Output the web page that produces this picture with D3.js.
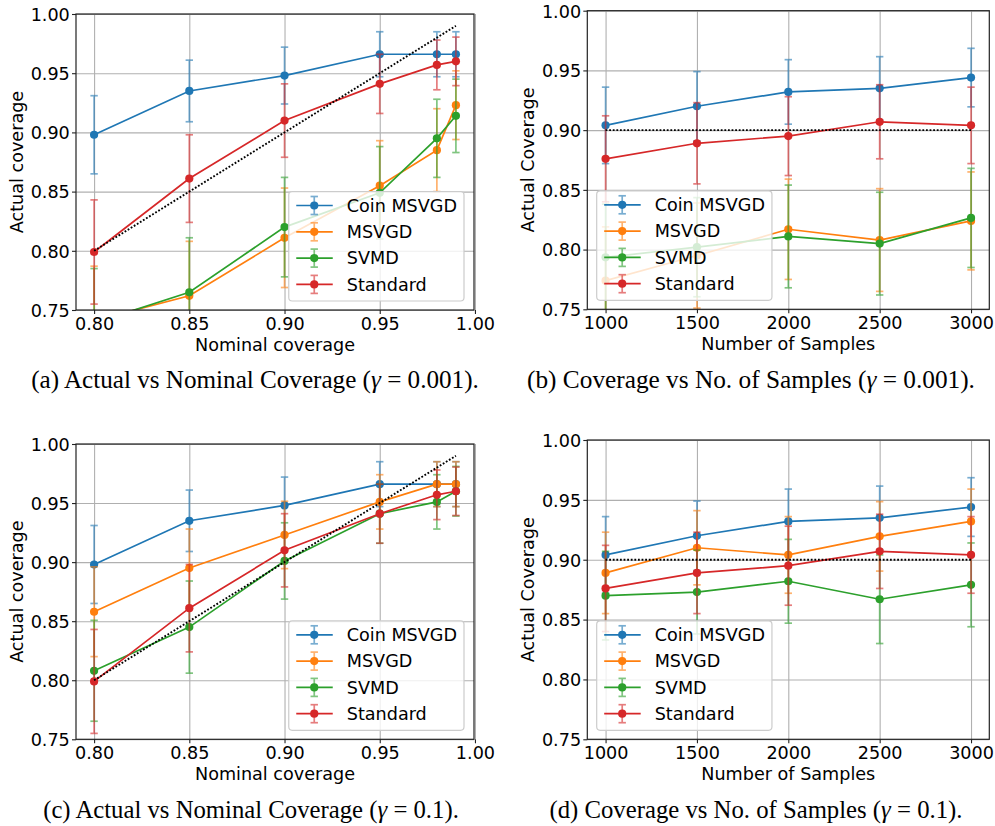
<!DOCTYPE html>
<html>
<head>
<meta charset="utf-8">
<script src="https://cdn.jsdelivr.net/npm/d3@7"></script>
<style>
  html, body { margin: 0; padding: 0; background: #fff; }
  svg { display: block; }
</style>
</head>
<body>
<div id="chart"></div>
<script>
// ---------------- DATA ----------------
const seriesNames = ["Coin MSVGD", "MSVGD", "SVMD", "Standard"];
const seriesColors = ["#1f77b4", "#ff7f0e", "#2ca02c", "#d62728"];

const nominalLevels = [0.80, 0.85, 0.90, 0.95, 0.98, 0.99];
const nominalTicks = [0.80, 0.85, 0.90, 0.95, 1.00];
const sampleSizes = [1000, 1500, 2000, 2500, 3000];
const sampleTicks = [1000, 1500, 2000, 2500, 3000];
const coverageTicks = [0.75, 0.80, 0.85, 0.90, 0.95, 1.00];

// (a) gamma = 0.001, actual vs nominal
const aCoin = [0.898, 0.935, 0.948, 0.966, 0.966, 0.966];
const aCoinErr = [0.033, 0.026, 0.024, 0.019, 0.019, 0.019];
const aMsvgd = [0.741, 0.762, 0.811, 0.855, 0.885, 0.923];
const aMsvgdErr = [0.046, 0.046, 0.042, 0.038, 0.035, 0.029];
const aSvmd = [0.739, 0.765, 0.820, 0.849, 0.895, 0.914];
const aSvmdErr = [0.046, 0.046, 0.042, 0.039, 0.033, 0.031];
const aStd = [0.799, 0.861, 0.910, 0.941, 0.957, 0.960];
const aStdErr = [0.044, 0.037, 0.031, 0.025, 0.021, 0.0205];

// (b) gamma = 0.001, coverage vs number of samples
const bCoin = [0.904, 0.920, 0.932, 0.935, 0.944];
const bCoinErr = [0.032, 0.029, 0.027, 0.0265, 0.0245];
const bMsvgd = [0.774, 0.795, 0.817, 0.808, 0.824];
const bMsvgdErr = [0.045, 0.044, 0.042, 0.043, 0.041];
const bSvmd = [0.7935, 0.802, 0.811, 0.805, 0.8265];
const bSvmdErr = [0.0445, 0.0415, 0.043, 0.043, 0.0415];
const bStd = [0.876, 0.889, 0.895, 0.907, 0.904];
const bStdErr = [0.036, 0.034, 0.033, 0.031, 0.032];

// (c) gamma = 0.1, actual vs nominal
const cCoin = [0.898, 0.935, 0.948, 0.966, 0.966, 0.966];
const cCoinErr = [0.033, 0.026, 0.024, 0.019, 0.019, 0.019];
const cMsvgd = [0.858, 0.895, 0.923, 0.951, 0.966, 0.966];
const cMsvgdErr = [0.038, 0.033, 0.0285, 0.023, 0.019, 0.019];
const cSvmd = [0.808, 0.845, 0.901, 0.941, 0.951, 0.960];
const cSvmdErr = [0.0427, 0.039, 0.0323, 0.025, 0.023, 0.021];
const cStd = [0.799, 0.861, 0.910, 0.941, 0.957, 0.960];
const cStdErr = [0.044, 0.037, 0.031, 0.025, 0.021, 0.0205];

// (d) gamma = 0.1, coverage vs number of samples
const dCoin = [0.904, 0.920, 0.932, 0.935, 0.944];
const dCoinErr = [0.032, 0.029, 0.027, 0.0265, 0.0245];
const dMsvgd = [0.889, 0.910, 0.904, 0.9195, 0.932];
const dMsvgdErr = [0.034, 0.031, 0.032, 0.029, 0.027];
const dSvmd = [0.870, 0.873, 0.882, 0.867, 0.879];
const dSvmdErr = [0.037, 0.035, 0.035, 0.037, 0.035];
const dStd = [0.876, 0.889, 0.895, 0.907, 0.904];
const dStdErr = [0.036, 0.034, 0.033, 0.031, 0.032];

const targetCoverage = 0.90;

// ---------------- LAYOUT ----------------
const W = 995, H = 826;
const FONT = "'DejaVu Sans', sans-serif";
const FS = 17.6;

const panels = [
  { key: "a", left: 76, right: 474, top: 14, bottom: 310,
    xDomain: [0.7905, 0.9995], xs: nominalLevels, xTicks: nominalTicks, xFmt: d3.format(".2f"),
    vals: [aCoin, aMsvgd, aSvmd, aStd], errs: [aCoinErr, aMsvgdErr, aSvmdErr, aStdErr],
    ref: "diag", legend: "lr", yLabel: "Actual coverage", xLabel: "Nominal coverage",
    capPre: "(a) Actual vs Nominal Coverage (", capVal: "0.001", capCx: 255, capW: 448, capY: 388 },
  { key: "b", left: 587.3, right: 989.3, top: 10.7, bottom: 309.3,
    xDomain: [900, 3100], xs: sampleSizes, xTicks: sampleTicks, xFmt: d3.format("d"),
    vals: [bCoin, bMsvgd, bSvmd, bStd], errs: [bCoinErr, bMsvgdErr, bSvmdErr, bStdErr],
    ref: "flat", legend: "ll", yLabel: "Actual Coverage", xLabel: "Number of Samples",
    capPre: "(b) Coverage vs No. of Samples (", capVal: "0.001", capCx: 751, capW: 448, capY: 388 },
  { key: "c", left: 76, right: 474, top: 444, bottom: 739.3,
    xDomain: [0.7905, 0.9995], xs: nominalLevels, xTicks: nominalTicks, xFmt: d3.format(".2f"),
    vals: [cCoin, cMsvgd, cSvmd, cStd], errs: [cCoinErr, cMsvgdErr, cSvmdErr, cStdErr],
    ref: "diag", legend: "lr", yLabel: "Actual coverage", xLabel: "Nominal coverage",
    capPre: "(c) Actual vs Nominal Coverage (", capVal: "0.1", capCx: 251, capW: 416, capY: 818 },
  { key: "d", left: 587.3, right: 989.3, top: 440, bottom: 739.3,
    xDomain: [900, 3100], xs: sampleSizes, xTicks: sampleTicks, xFmt: d3.format("d"),
    vals: [dCoin, dMsvgd, dSvmd, dStd], errs: [dCoinErr, dMsvgdErr, dSvmdErr, dStdErr],
    ref: "flat", legend: "ll", yLabel: "Actual Coverage", xLabel: "Number of Samples",
    capPre: "(d) Coverage vs No. of Samples (", capVal: "0.1", capCx: 756, capW: 413, capY: 818 }
];

const svg = d3.select("#chart").append("svg").attr("width", W).attr("height", H);
const defs = svg.append("defs");

const LW = 1.7, ERR_OP = 0.6, CAP = 3.7, MR = 4.1;

panels.forEach(p => {
  const g = svg.append("g").attr("class", "panel-" + p.key);
  const x = d3.scaleLinear().domain(p.xDomain).range([p.left, p.right]);
  const y = d3.scaleLinear().domain([0.75, 1.0]).range([p.bottom, p.top]);

  // grid
  const gx = g.append("g").attr("transform", `translate(0,${p.bottom})`)
    .call(d3.axisBottom(x).tickValues(p.xTicks).tickSize(-(p.bottom - p.top)).tickFormat(""));
  const gy = g.append("g").attr("transform", `translate(${p.left},0)`)
    .call(d3.axisLeft(y).tickValues(coverageTicks).tickSize(-(p.right - p.left)).tickFormat(""));
  [gx, gy].forEach(a => {
    a.select(".domain").remove();
    a.selectAll("line").attr("stroke", "#b0b0b0").attr("stroke-width", 1.1);
  });

  // clip
  const cid = "clip-" + p.key;
  defs.append("clipPath").attr("id", cid).append("rect")
    .attr("x", p.left).attr("y", p.top).attr("width", p.right - p.left).attr("height", p.bottom - p.top);
  const plot = g.append("g").attr("clip-path", `url(#${cid})`);

  p.vals.forEach((vals, si) => {
    const col = seriesColors[si];
    const errs = p.errs[si];
    const pts = p.xs.map((xv, i) => ({ x: xv, y: vals[i], e: errs[i] }));
    const sg = plot.append("g");
    const eg = sg.append("g").attr("stroke", col).attr("stroke-width", LW).attr("opacity", ERR_OP);
    eg.selectAll("line.bar").data(pts).join("line").attr("class", "bar")
      .attr("x1", d => x(d.x)).attr("x2", d => x(d.x))
      .attr("y1", d => y(d.y - d.e)).attr("y2", d => y(d.y + d.e));
    eg.selectAll("line.capt").data(pts).join("line").attr("class", "capt")
      .attr("x1", d => x(d.x) - CAP).attr("x2", d => x(d.x) + CAP)
      .attr("y1", d => y(d.y + d.e)).attr("y2", d => y(d.y + d.e));
    eg.selectAll("line.capb").data(pts).join("line").attr("class", "capb")
      .attr("x1", d => x(d.x) - CAP).attr("x2", d => x(d.x) + CAP)
      .attr("y1", d => y(d.y - d.e)).attr("y2", d => y(d.y - d.e));
    sg.append("path").datum(pts)
      .attr("fill", "none").attr("stroke", col).attr("stroke-width", LW)
      .attr("d", d3.line().x(d => x(d.x)).y(d => y(d.y)));
    sg.selectAll("circle").data(pts).join("circle")
      .attr("cx", d => x(d.x)).attr("cy", d => y(d.y)).attr("r", MR).attr("fill", col);
  });

  // reference line
  let refPts;
  if (p.ref === "diag") {
    refPts = [[nominalLevels[0], nominalLevels[0]], [nominalLevels[nominalLevels.length - 1], nominalLevels[nominalLevels.length - 1]]];
  } else {
    refPts = [[sampleSizes[0], targetCoverage], [sampleSizes[sampleSizes.length - 1], targetCoverage]];
  }
  plot.append("path").datum(refPts)
    .attr("fill", "none").attr("stroke", "#000").attr("stroke-width", 1.9)
    .attr("stroke-dasharray", "1.8,1.8")
    .attr("d", d3.line().x(d => x(d[0])).y(d => y(d[1])));

  // spines
  g.append("rect").attr("x", p.left).attr("y", p.top)
    .attr("width", p.right - p.left).attr("height", p.bottom - p.top)
    .attr("fill", "none").attr("stroke", "#222").attr("stroke-width", 1.2);

  // tick axes
  const ax = g.append("g").attr("transform", `translate(0,${p.bottom})`)
    .call(d3.axisBottom(x).tickValues(p.xTicks).tickFormat(p.xFmt).tickSize(4).tickPadding(3.5));
  const ay = g.append("g").attr("transform", `translate(${p.left},0)`)
    .call(d3.axisLeft(y).tickValues(coverageTicks).tickFormat(d3.format(".2f")).tickSize(4).tickPadding(2.2));
  [ax, ay].forEach(a => {
    a.select(".domain").remove();
    a.selectAll("line").attr("stroke", "#222").attr("stroke-width", 1.1);
    a.selectAll("text").attr("font-family", FONT).attr("font-size", FS).attr("fill", "#000");
  });
  ay.selectAll("text").attr("dy", "0.36em");

  // axis labels
  g.append("text").attr("x", (p.left + p.right) / 2).attr("y", p.bottom + 41)
    .attr("text-anchor", "middle").attr("font-family", FONT).attr("font-size", FS).text(p.xLabel);
  const ylx = p.left - 53;
  g.append("text").attr("transform", `translate(${ylx},${(p.top + p.bottom) / 2}) rotate(-90)`)
    .attr("text-anchor", "middle").attr("font-family", FONT).attr("font-size", FS).text(p.yLabel);

  // legend
  const lg = g.append("g");
  const tmp = lg.append("g");
  let maxW = 0;
  seriesNames.forEach(n => {
    const t = tmp.append("text").attr("font-family", FONT).attr("font-size", FS).text(n);
    maxW = Math.max(maxW, t.node().getComputedTextLength());
  });
  tmp.remove();
  const lw = 58 + maxW + 7, lh = 109.5;
  const lx = p.legend === "lr" ? p.right - 10 - lw : p.left + 9.4;
  const ly = p.bottom - 9 - lh;
  lg.append("rect").attr("x", lx).attr("y", ly).attr("width", lw).attr("height", lh)
    .attr("rx", 3.5).attr("fill", "#fff").attr("fill-opacity", 0.8)
    .attr("stroke", "#cccccc").attr("stroke-width", 1.2);
  seriesNames.forEach((n, i) => {
    const cy = ly + 14 + i * 26.3;
    const col = seriesColors[i];
    const hx = lx + 25.5;
    lg.append("line").attr("x1", lx + 7.5).attr("x2", lx + 44).attr("y1", cy).attr("y2", cy)
      .attr("stroke", col).attr("stroke-width", LW);
    const eg = lg.append("g").attr("stroke", col).attr("stroke-width", LW).attr("opacity", ERR_OP);
    eg.append("line").attr("x1", hx).attr("x2", hx).attr("y1", cy - 9).attr("y2", cy + 9);
    eg.append("line").attr("x1", hx - CAP).attr("x2", hx + CAP).attr("y1", cy - 9).attr("y2", cy - 9);
    eg.append("line").attr("x1", hx - CAP).attr("x2", hx + CAP).attr("y1", cy + 9).attr("y2", cy + 9);
    lg.append("circle").attr("cx", hx).attr("cy", cy).attr("r", MR).attr("fill", col);
    lg.append("text").attr("x", lx + 58).attr("y", cy).attr("dy", "0.36em")
      .attr("font-family", FONT).attr("font-size", FS).text(n);
  });

  // caption
  const cap = svg.append("text").attr("x", p.capCx).attr("y", p.capY)
    .attr("text-anchor", "middle").attr("font-family", "'Liberation Serif', 'Times New Roman', serif")
    .attr("font-size", 24).attr("fill", "#000");
  cap.append("tspan").text(p.capPre);
  cap.append("tspan").attr("font-style", "italic").text("γ");
  cap.append("tspan").text(" = " + p.capVal + ").");
  const cw = cap.node().getComputedTextLength();
  cap.attr("font-size", 24 * p.capW / cw);
});
</script>
</body>
</html>
